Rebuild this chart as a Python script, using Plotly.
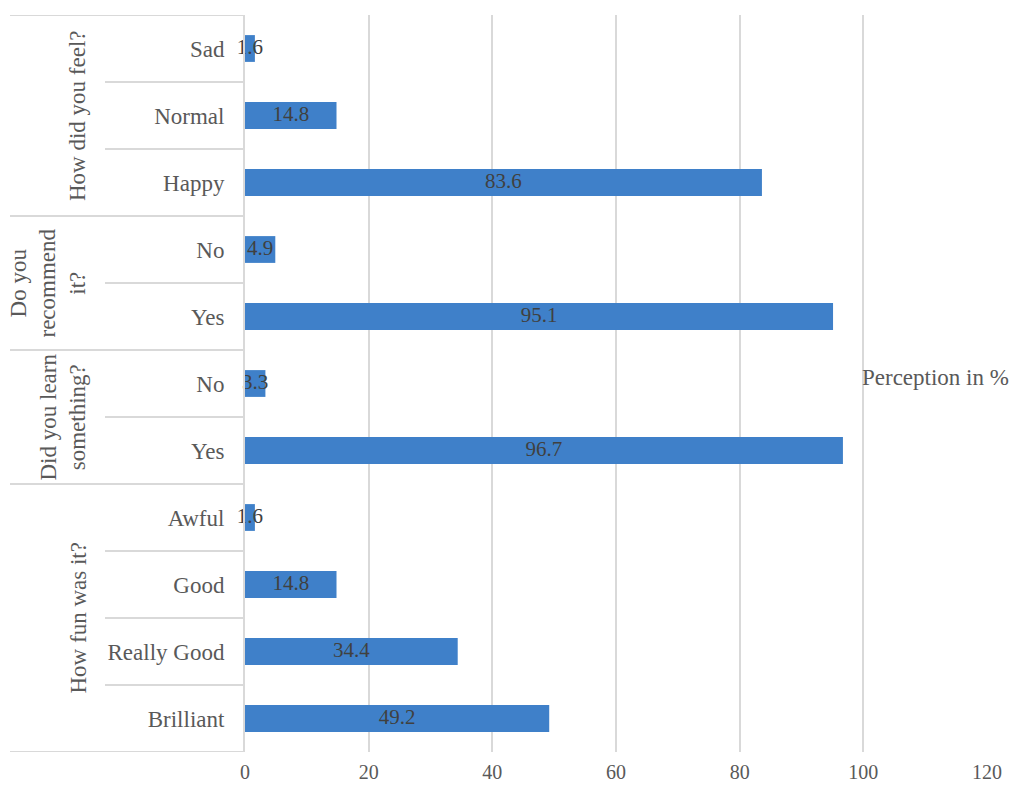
import plotly.graph_objects as go

# ---- data ----
groups = ["How did you feel?", "Do you<br>recommend<br>it?", "Did you learn<br>something?", "How fun was it?"]
group_items = [
    ["Sad", "Normal", "Happy"],
    ["No", "Yes"],
    ["No", "Yes"],
    ["Awful", "Good", "Really Good", "Brilliant"],
]
group_values = [
    [1.6, 14.8, 83.6],
    [4.9, 95.1],
    [3.3, 96.7],
    [1.6, 14.8, 34.4, 49.2],
]
x_ticks = [0, 20, 40, 60, 80, 100, 120]
axis_title = "Perception in %"

# ---- styling ----
FONT = "Liberation Serif"
BAR_COLOR = "#3F80C9"
GRID = "#D9D9D9"
TXT = "#595959"
W, H = 1011, 787
ML, MR, MT, MB = 245, 24, 15, 35
plot_w = W - ML - MR
plot_h = H - MT - MB

def px_to_paper_x(px):
    return (px - ML) / plot_w

labels, values, pos = [], [], []
i = 0
for items, vals in zip(group_items, group_values):
    for it, v in zip(items, vals):
        labels.append(it)
        values.append(v)
        pos.append(i)
        i += 1
n = len(labels)

fig = go.Figure()
fig.add_trace(go.Bar(
    y=pos, x=values, orientation="h", width=0.4,
    marker=dict(color=BAR_COLOR, line=dict(width=0)),
    hoverinfo="skip", showlegend=False,
))
fig.add_trace(go.Scatter(
    y=pos, x=[v / 2 for v in values], mode="text",
    text=[f"{v:.1f}" for v in values], textposition="middle center",
    textfont=dict(family=FONT, size=21, color="#404040"),
    cliponaxis=False, hoverinfo="skip", showlegend=False,
))

shapes = []
annotations = []
start = 0
x_group = px_to_paper_x(10)
x_item = px_to_paper_x(105)
for g, items in zip(groups, group_items):
    end = start + len(items)
    shapes.append(dict(type="line", xref="paper", yref="y", x0=x_group, x1=0,
                       y0=start - 0.5, y1=start - 0.5, line=dict(color=GRID, width=2)))
    for k in range(start + 1, end):
        shapes.append(dict(type="line", xref="paper", yref="y", x0=x_item, x1=0,
                           y0=k - 0.5, y1=k - 0.5, line=dict(color=GRID, width=2)))
    annotations.append(dict(
        text=g, xref="paper", yref="y", x=px_to_paper_x(92), xanchor="right",
        y=(start + end - 1) / 2, yanchor="middle", textangle=-90, showarrow=False,
        font=dict(family=FONT, size=23, color=TXT), align="center",
    ))
    start = end
shapes.append(dict(type="line", xref="paper", yref="y", x0=x_group, x1=0,
                   y0=n - 0.5, y1=n - 0.5, line=dict(color=GRID, width=2)))

annotations.append(dict(
    text=axis_title, xref="paper", yref="paper", x=px_to_paper_x(860), xanchor="left",
    y=(H - MB - 377) / plot_h, yanchor="middle", showarrow=False,
    font=dict(family=FONT, size=23, color=TXT),
))

fig.update_layout(
    width=W, height=H,
    margin=dict(l=ML, r=MR, t=MT, b=MB, pad=0, autoexpand=False),
    paper_bgcolor="white", plot_bgcolor="white",
    shapes=shapes, annotations=annotations,
    xaxis=dict(range=[0, 120], tickvals=x_ticks, showgrid=True, gridcolor=GRID, gridwidth=2,
               zeroline=False, showline=False, ticks="", ticklabelstandoff=6, automargin=False,
               tickfont=dict(family=FONT, size=20, color=TXT), fixedrange=True),
    yaxis=dict(range=[n - 0.5, -0.5], tickvals=pos, ticktext=labels, showgrid=False,
               zeroline=False, showline=True, linecolor=GRID, linewidth=2, ticks="",
               ticklabelstandoff=14, automargin=False,
               tickfont=dict(family=FONT, size=23, color=TXT), fixedrange=True),
)

fig.write_html("out.html")
